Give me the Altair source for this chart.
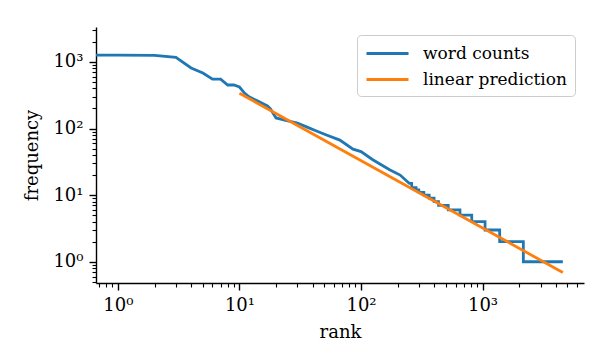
import altair as alt
import pandas as pd

# ---- data ----
word_ranks = [0.5, 1, 2, 3, 4, 5, 6, 7, 8, 9, 10, 11, 12, 14, 17, 18, 20, 25, 30, 36, 43,
              52, 67, 86, 100, 125, 172, 210, 240, 250, 261, 262, 284, 285, 299, 300, 329,
              330, 364, 365, 399, 400, 434, 435, 522, 523, 652, 653, 815, 816, 1049,
              1050, 1384, 1385, 2167, 2168, 4580]
word_counts = [1260, 1260, 1250, 1170, 810, 680, 550, 550, 450, 450, 420, 340, 300, 260, 218,
               197, 144, 130, 121, 105, 92, 80, 67, 49, 45, 34, 24, 20, 16, 15, 15, 13, 13,
               12, 12, 11, 11, 10, 10, 9, 9, 8, 8, 7, 7, 6, 6, 5, 5, 4, 4, 3, 3, 2, 2, 1, 1]
pred_ranks = [10, 4580]
pred_counts = [338, 0.69]

series_names = ["word counts", "linear prediction"]
series_colors = ["#1f77b4", "#ff7f0e"]

x_domain = [0.66, 6840]
y_domain = [0.48, 3340]
x_ticks = [m * 10 ** e if e >= 0 else round(m * 0.1, 1) for e in range(-1, 4) for m in range(1, 10)]
x_ticks = [v for v in x_ticks if x_domain[0] <= v <= x_domain[1]]
y_ticks = [m * 10 ** e if e >= 0 else round(m * 0.1, 1) for e in range(-1, 4) for m in range(1, 10)]
y_ticks = [v for v in y_ticks if y_domain[0] <= v <= y_domain[1]]
major_values = [1, 10, 100, 1000]
major_labels = ["10⁰", "10¹", "10²", "10³"]

df = pd.concat([
    pd.DataFrame({"rank": word_ranks, "frequency": word_counts, "series": series_names[0], "order": range(len(word_ranks))}),
    pd.DataFrame({"rank": pred_ranks, "frequency": pred_counts, "series": series_names[1], "order": range(len(pred_ranks))}),
])

label_expr = " : ".join(
    f"datum.value == {v} ? '{lab}'" for v, lab in zip(major_values, major_labels)
) + " : ''"
major_test = "indexof([1, 10, 100, 1000], datum.value) >= 0"

FONT = "DejaVu Serif"
FS = 18


def make_axis(title, values, title_padding):
    return alt.Axis(
        title=title,
        values=values,
        labelExpr=label_expr,
        labelOverlap=False,
        labelFont=FONT,
        labelFontSize=FS,
        labelColor="black",
        labelPadding=6,
        titleFont=FONT,
        titleFontSize=FS,
        titleFontWeight="normal",
        titleColor="black",
        titlePadding=title_padding,
        grid=False,
        domainColor="black",
        domainWidth=1.4,
        tickColor="black",
        tickSize={"condition": {"test": major_test, "value": 7}, "value": 4},
        tickWidth={"condition": {"test": major_test, "value": 1.4}, "value": 1.1},
    )


chart = alt.Chart(df).mark_line(strokeWidth=2.8, clip=True).encode(
    x=alt.X("rank:Q", scale=alt.Scale(type="log", domain=x_domain, nice=False),
            axis=make_axis("rank", x_ticks, 9)),
    y=alt.Y("frequency:Q", scale=alt.Scale(type="log", domain=y_domain, nice=False),
            axis=make_axis("frequency", y_ticks, 11)),
    color=alt.Color("series:N", scale=alt.Scale(domain=series_names, range=series_colors),
                    legend=alt.Legend(
                        title=None, orient="none", legendX=261, legendY=8,
                        symbolType="M-1,0H3.67", symbolSize=324, symbolStrokeWidth=2.8,
                        labelFont=FONT, labelFontSize=17, labelColor="black", labelAlign="left",
                        labelOffset=37, rowPadding=7, padding=8,
                        strokeColor="#cccccc", fillColor="white", cornerRadius=4,
                    )),
    order="order:Q",
).properties(
    width=488, height=256,
    autosize=alt.AutoSizeParams(type="none"),
    padding={"left": 88, "top": 19, "right": 24, "bottom": 65},
).configure_view(stroke=None)

chart.save("out.html", embed_options={"renderer": "svg", "actions": False})
